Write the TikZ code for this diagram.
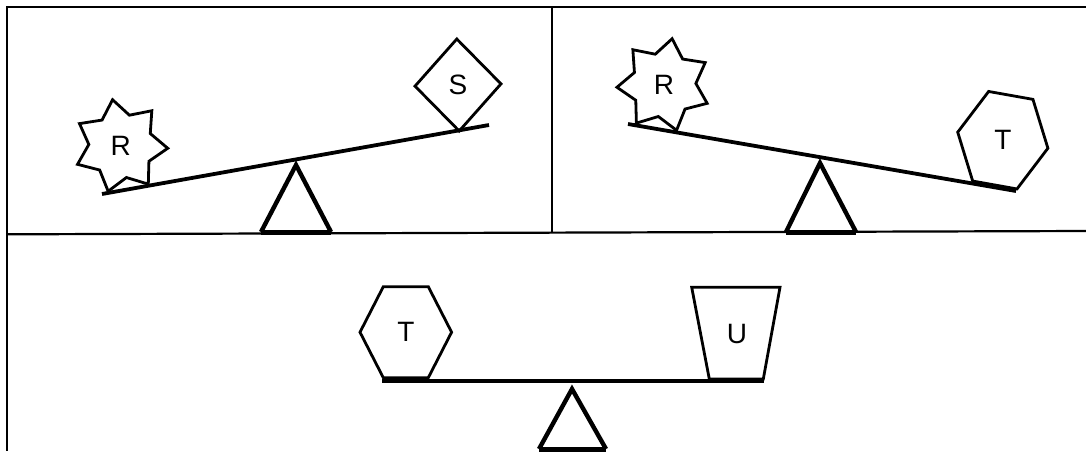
\documentclass[tikz,border=0pt]{standalone}
\usepackage{fontspec}
\setmainfont{Liberation Sans}
\begin{document}
\begin{tikzpicture}[x=1pt,y=-1pt,
  frame/.style={line width=2.2pt},
  shp/.style={line width=2.8pt, line join=miter},
  beam/.style={line width=3.8pt},
  fulcrum/.style={line width=4.4pt, line join=miter},
  fbase/.style={line width=5pt},
  lbl/.style={font=\fontsize{28}{32}\selectfont, inner sep=0pt}]
\useasboundingbox (0,0) rectangle (1086,451);
% frame
\coordinate (tl) at (7,7);
\coordinate (tr) at (1086,7);
\coordinate (bl) at (7,451);
\coordinate (ml) at (7,234.3);
\coordinate (mr) at (1086,231);
\coordinate (vt) at (552,7);
\coordinate (vb) at (552,233);
\draw[frame] (tr) -- (tl) -- (bl);
\draw[frame] (ml) -- (mr);
\draw[frame] (vt) -- (vb);

% ---------- left panel ----------
\node[lbl] (R1) at (120.8,146) {R};
\begin{scope}[shift={(R1.center)}, rotate=10.1]
  \draw[shp] (-90:47) \foreach \i in {1,...,13} { -- ({-90+\i*360/14}:{47-15*mod(\i,2)}) } -- cycle;
\end{scope}
\node[lbl] (S1) at (458,85) {S};
\begin{scope}[shift={(S1.center)}, rotate=1.5]
  \draw[shp] (0,-46) -- (43,0) -- (0,46) -- (-43,0) -- cycle;
\end{scope}
\coordinate (F1a) at (296,165);
\coordinate (F1l) at (261,232);
\coordinate (F1r) at (331,232);
\draw[fulcrum] (F1l) -- (F1a) -- (F1r);
\draw[fbase] (F1l) -- (F1r);
\coordinate (B1l) at (102,194);
\coordinate (B1r) at (489,125);
\draw[beam] (B1l) -- (B1r);

% ---------- right panel ----------
\node[lbl] (R2) at (663.9,85) {R};
\begin{scope}[shift={(R2.center)}, rotate=-10.1]
  \draw[shp] (-90:47) \foreach \i in {1,...,13} { -- ({-90+\i*360/14}:{47-15*mod(\i,2)}) } -- cycle;
\end{scope}
\node[lbl] (T2) at (1002.8,140.2) {T};
\begin{scope}[shift={(T2.center)}, rotate=-10.1]
  \draw[shp] (-22.5,-45.5) -- (22.5,-45.5) -- (45.8,0) -- (22.5,45.5) -- (-22.5,45.5) -- (-45.8,0) -- cycle;
\end{scope}
\coordinate (F2a) at (820,163);
\coordinate (F2l) at (786,232);
\coordinate (F2r) at (856,232);
\draw[fulcrum] (F2l) -- (F2a) -- (F2r);
\draw[fbase] (F2l) -- (F2r);
\coordinate (B2l) at (628,124);
\coordinate (B2r) at (1016,191);
\draw[beam] (B2l) -- (B2r);

% ---------- bottom panel ----------
\node[lbl] (T3) at (405.8,332.2) {T};
\begin{scope}[shift={(T3.center)}]
  \draw[shp] (-22.5,-45.5) -- (22.5,-45.5) -- (45.8,0) -- (22.5,45.5) -- (-22.5,45.5) -- (-45.8,0) -- cycle;
\end{scope}
\node[lbl] (U3) at (737,334) {U};
\coordinate (U3a) at (691.7,287.3);
\coordinate (U3b) at (780,287.3);
\coordinate (U3c) at (763.3,379);
\coordinate (U3d) at (709.3,379);
\draw[shp] (U3a) -- (U3b) -- (U3c) -- (U3d) -- cycle;
\coordinate (F3a) at (572,389);
\coordinate (F3l) at (539,449);
\coordinate (F3r) at (606,449);
\draw[fulcrum] (F3l) -- (F3a) -- (F3r);
\draw[fbase] (F3l) -- (F3r);
\coordinate (B3l) at (382,381);
\coordinate (B3r) at (764,381);
\draw[beam] (B3l) -- (B3r);
\end{tikzpicture}
\end{document}
